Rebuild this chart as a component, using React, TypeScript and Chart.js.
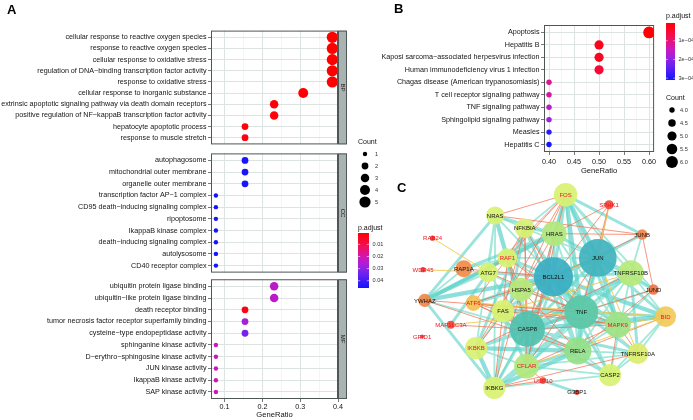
import React, { useEffect, useRef } from "react";
import { Chart, registerables } from "chart.js";

Chart.register(...registerables);

// ================= Panel A : GO enrichment =================
const bpTerms = [
  "cellular response to reactive oxygen species",
  "response to reactive oxygen species",
  "cellular response to oxidative stress",
  "regulation of DNA\u2212binding transcription factor activity",
  "response to oxidative stress",
  "cellular response to inorganic substance",
  "extrinsic apoptotic signaling pathway via death domain receptors",
  "positive regulation of NF\u2212kappaB transcription factor activity",
  "hepatocyte apoptotic process",
  "response to muscle stretch",
];
const bpRatio = [0.385, 0.385, 0.385, 0.385, 0.385, 0.308, 0.231, 0.231, 0.154, 0.154];
const bpCount = [5, 5, 5, 5, 5, 4, 3, 3, 2, 2];
const bpPadj = [0.0006, 0.0006, 0.0006, 0.0007, 0.0008, 0.001, 0.0015, 0.0018, 0.002, 0.0025];

const ccTerms = [
  "autophagosome",
  "mitochondrial outer membrane",
  "organelle outer membrane",
  "transcription factor AP\u22121 complex",
  "CD95 death\u2212inducing signaling complex",
  "ripoptosome",
  "IkappaB kinase complex",
  "death\u2212inducing signaling complex",
  "autolysosome",
  "CD40 receptor complex",
];
const ccRatio = [0.154, 0.154, 0.154, 0.077, 0.077, 0.077, 0.077, 0.077, 0.077, 0.077];
const ccCount = [2, 2, 2, 1, 1, 1, 1, 1, 1, 1];
const ccPadj = [0.0455, 0.0455, 0.0455, 0.046, 0.046, 0.046, 0.046, 0.046, 0.046, 0.046];

const mfTerms = [
  "ubiquitin protein ligase binding",
  "ubiquitin\u2212like protein ligase binding",
  "death receptor binding",
  "tumor necrosis factor receptor superfamily binding",
  "cysteine\u2212type endopeptidase activity",
  "sphinganine kinase activity",
  "D\u2212erythro\u2212sphingosine kinase activity",
  "JUN kinase activity",
  "IkappaB kinase activity",
  "SAP kinase activity",
];
const mfRatio = [0.231, 0.231, 0.154, 0.154, 0.154, 0.077, 0.077, 0.077, 0.077, 0.077];
const mfCount = [3, 3, 2, 2, 2, 1, 1, 1, 1, 1];
const mfPadj = [0.024, 0.024, 0.003, 0.027, 0.033, 0.021, 0.021, 0.021, 0.021, 0.021];

const aMajorTicks = [0.1, 0.2, 0.3, 0.4];
const aMajorLabels = ["0.1", "0.2", "0.3", "0.4"];
const aMinorTicks = [0.15, 0.25, 0.35];
const aRange = [0.064, 0.4];

const countLegendA = [1, 2, 3, 4, 5];
const countLabelsA = ["1", "2", "3", "4", "5"];
const padjTicksA = [0.01, 0.02, 0.03, 0.04];
const padjLabelsA = ["0.01", "0.02", "0.03", "0.04"];

// ================= Panel B : KEGG enrichment =================
const keggTerms = [
  "Apoptosis",
  "Hepatitis B",
  "Kaposi sarcoma\u2212associated herpesvirus infection",
  "Human immunodeficiency virus 1 infection",
  "Chagas disease (American trypanosomiasis)",
  "T cell receptor signaling pathway",
  "TNF signaling pathway",
  "Sphingolipid signaling pathway",
  "Measles",
  "Hepatitis C",
];
const keggRatio = [0.6, 0.5, 0.5, 0.5, 0.4, 0.4, 0.4, 0.4, 0.4, 0.4];
const keggCount = [6, 5, 5, 5, 4, 4, 4, 4, 4, 4];
const keggPadj = [0.000005, 0.00003, 0.000035, 0.00005, 0.000115, 0.00013, 0.00016, 0.00019, 0.00029, 0.00031];

const bMajorTicks = [0.4, 0.45, 0.5, 0.55, 0.6];
const bMajorLabels = ["0.40", "0.45", "0.50", "0.55", "0.60"];
const bMinorTicks = [0.425, 0.475, 0.525, 0.575];
const bRange = [0.39, 0.61];

const countLegendB = [4, 4.5, 5, 5.5, 6];
const countLabelsB = ["4.0", "4.5", "5.0", "5.5", "6.0"];
const padjTicksB = [0.0001, 0.0002, 0.0003];
const padjLabelsB = ["1e\u221204", "2e\u221204", "3e\u221204"];

// ================= Panel C : PPI network =================
const nodeNames = [
  "FOS", "SPHK1", "NRAS", "NFKBIA", "HRAS", "JUNB", "RAB24", "JUN", "RAF1", "RAP1A", "ATG7",
  "WDR45", "BCL2L1", "TNFRSF10B", "HSPA5", "JUND", "YWHAZ", "ATF6", "FAS", "TNF", "BID",
  "MAPK9", "MAP1LC3A", "CASP8", "GRID1", "IKBKB", "RELA", "TNFRSF10A", "CFLAR", "CASP2",
  "USP10", "IKBKG", "G3BP1",
];
const nodeX = [181, 231, 100, 134, 168, 269, 28, 218, 114, 64, 92, 17, 167, 256, 130, 282, 19, 75, 109, 199, 296, 241, 49, 137, 16, 78, 195, 264, 136, 232, 155, 99, 194];
const nodeY = [12, 23, 35, 49, 55, 56, 60, 82, 82, 94, 98, 95, 103, 99, 117, 117, 129, 132, 141, 142, 147, 156, 156, 161, 169, 182, 185, 188, 202, 212, 218, 226, 231];
const nodeDegree = [15, 4, 11, 12, 16, 5, 1, 26, 12, 10, 12, 1, 27, 17, 15, 5, 7, 9, 14, 23, 13, 17, 3, 24, 0, 14, 18, 13, 16, 14, 2, 14, 1];
const nodeScore = [0.5, 0.03, 0.5, 0.5, 0.62, 0.15, 0, 0.97, 0.5, 0.17, 0.5, 0, 1, 0.6, 0.6, 0.12, 0.16, 0.32, 0.5, 0.87, 0.35, 0.7, 0.03, 0.9, 0, 0.5, 0.74, 0.48, 0.62, 0.5, 0.03, 0.5, 0];
const nodeMarked = [1, 1, 0, 0, 0, 0, 1, 0, 1, 0, 0, 1, 0, 0, 0, 0, 0, 1, 0, 0, 1, 1, 1, 0, 1, 1, 0, 0, 1, 0, 1, 0, 0];

const strongEdges = [
  ["JUN", "BCL2L1"], ["JUN", "TNF"], ["JUN", "FOS"], ["JUN", "MAPK9"], ["BCL2L1", "TNF"], ["BCL2L1", "CASP8"],
  ["BCL2L1", "YWHAZ"], ["BCL2L1", "BID"], ["TNF", "CASP8"], ["TNF", "RELA"], ["CASP8", "FAS"], ["CASP8", "CFLAR"],
  ["CASP8", "BID"], ["CASP8", "TNFRSF10B"], ["RELA", "IKBKB"], ["RELA", "IKBKG"], ["IKBKB", "IKBKG"],
  ["RAF1", "YWHAZ"], ["HRAS", "RAF1"], ["NRAS", "RAF1"], ["FOS", "TNF"], ["NRAS", "CASP8"],
];
const mediumEdges = [
  ["JUN", "CASP8"], ["JUN", "RELA"], ["JUN", "TNFRSF10B"], ["JUN", "JUNB"], ["JUN", "JUND"], ["JUN", "HRAS"],
  ["BCL2L1", "RELA"], ["BCL2L1", "HSPA5"], ["BCL2L1", "FAS"], ["BCL2L1", "MAPK9"], ["BCL2L1", "CFLAR"],
  ["BCL2L1", "TNFRSF10B"], ["BCL2L1", "CASP2"], ["BCL2L1", "ATG7"], ["BCL2L1", "RAF1"], ["BCL2L1", "HRAS"],
  ["BCL2L1", "FOS"], ["TNF", "IKBKB"], ["TNF", "IKBKG"], ["TNF", "CFLAR"], ["TNF", "MAPK9"],
  ["TNF", "TNFRSF10A"], ["TNF", "TNFRSF10B"], ["TNF", "NFKBIA"], ["TNF", "FAS"], ["TNF", "BID"],
  ["CASP8", "RELA"], ["CASP8", "CASP2"], ["CASP8", "IKBKB"], ["CASP8", "IKBKG"], ["CASP8", "TNFRSF10A"],
  ["RELA", "NFKBIA"], ["RELA", "CFLAR"], ["FOS", "HRAS"], ["FOS", "JUNB"], ["FOS", "MAPK9"], ["NRAS", "HRAS"],
  ["HRAS", "RAP1A"], ["HRAS", "YWHAZ"], ["NFKBIA", "IKBKB"], ["NFKBIA", "IKBKG"], ["CFLAR", "IKBKG"],
  ["CFLAR", "FAS"], ["TNFRSF10A", "TNFRSF10B"], ["HSPA5", "ATF6"], ["ATG7", "MAP1LC3A"], ["USP10", "G3BP1"],
  ["NRAS", "YWHAZ"], ["IKBKG", "YWHAZ"], ["JUN", "BID"],
];
const thinEdges = [
  ["JUN", "ATF6"], ["JUN", "NFKBIA"], ["JUN", "RAF1"], ["BCL2L1", "IKBKG"], ["BCL2L1", "NRAS"],
  ["TNF", "CASP2"], ["TNF", "HSPA5"], ["TNF", "HRAS"], ["CASP8", "HSPA5"], ["CASP8", "ATG7"],
  ["CASP8", "YWHAZ"], ["RELA", "MAPK9"], ["RELA", "FOS"], ["RELA", "TNFRSF10A"], ["FOS", "TNFRSF10B"],
  ["FOS", "JUND"], ["FOS", "CASP8"], ["NRAS", "ATG7"], ["NRAS", "NFKBIA"], ["NRAS", "IKBKB"],
  ["HRAS", "MAPK9"], ["HRAS", "NFKBIA"], ["RAF1", "RAP1A"], ["RAF1", "MAPK9"], ["IKBKB", "CFLAR"],
  ["CFLAR", "TNFRSF10A"], ["CFLAR", "TNFRSF10B"], ["CFLAR", "CASP2"], ["TNFRSF10A", "BID"],
  ["TNFRSF10A", "CASP2"], ["TNFRSF10B", "BID"], ["TNFRSF10B", "CASP2"], ["CASP2", "BID"], ["CASP2", "IKBKG"],
  ["MAPK9", "BID"], ["JUNB", "TNFRSF10B"], ["JUND", "TNFRSF10B"], ["JUND", "MAPK9"], ["HSPA5", "ATG7"],
  ["HSPA5", "FAS"], ["ATG7", "YWHAZ"], ["FAS", "IKBKB"], ["FOS", "NFKBIA"], ["CASP2", "RELA"],
  ["IKBKG", "NRAS"], ["RAP1A", "YWHAZ"], ["CASP8", "JUND"], ["RELA", "TNFRSF10B"],
];
const redEdges = [
  ["FOS", "NRAS"], ["FOS", "RAF1"], ["FOS", "ATG7"], ["FOS", "HSPA5"], ["FOS", "IKBKB"],
  ["SPHK1", "JUN"], ["SPHK1", "HRAS"], ["SPHK1", "TNF"], ["SPHK1", "BCL2L1"], ["NRAS", "JUNB"], ["HRAS", "JUNB"],
  ["HRAS", "CFLAR"], ["HRAS", "CASP8"], ["NFKBIA", "CASP8"], ["NFKBIA", "CFLAR"], ["NFKBIA", "FAS"],
  ["RAF1", "HSPA5"], ["RAF1", "CASP8"], ["RAF1", "TNF"], ["RAF1", "ATF6"], ["RAF1", "FAS"], ["ATF6", "CASP8"],
  ["ATF6", "TNF"], ["ATF6", "BCL2L1"], ["ATF6", "FAS"], ["ATF6", "MAPK9"], ["YWHAZ", "TNF"], ["YWHAZ", "RELA"],
  ["MAP1LC3A", "CASP8"], ["IKBKB", "HSPA5"], ["CFLAR", "MAPK9"], ["USP10", "IKBKG"], ["USP10", "CFLAR"],
  ["MAPK9", "TNFRSF10A"], ["MAPK9", "CASP2"], ["JUND", "TNF"], ["JUND", "RELA"], ["JUNB", "BCL2L1"],
  ["BID", "RELA"], ["RELA", "HSPA5"], ["HSPA5", "MAPK9"], ["IKBKG", "FAS"],
  ["IKBKG", "TNFRSF10A"], ["CASP8", "MAPK9"], ["JUNB", "JUND"], ["NFKBIA", "RAF1"], ["NFKBIA", "BCL2L1"],
  ["HRAS", "HSPA5"], ["ATF6", "RELA"], ["FAS", "MAPK9"], ["IKBKB", "TNFRSF10B"], ["CFLAR", "JUN"],
  ["ATG7", "TNF"], ["RAP1A", "BCL2L1"], ["HSPA5", "IKBKG"], ["FOS", "CFLAR"],
];
const yellowEdges = [
  ["RAB24", "ATG7"], ["WDR45", "ATG7"], ["MAP1LC3A", "TNF"], ["ATF6", "BID"], ["HSPA5", "JUN"],
  ["BCL2L1", "TNFRSF10A"], ["BID", "MAPK9"], ["JUN", "TNFRSF10A"], ["CFLAR", "BID"], ["SPHK1", "JUN"],
  ["FAS", "TNFRSF10B"],
];

// ================= styling helpers =================
const FONT = "'Liberation Sans', Arial, Helvetica, sans-serif";
const TEXT = "#141414";
const GRID_MAJOR = "#dde3e1";
const GRID_MINOR = "#ecf0ef";
const BORDER = "#4f5656";

const padjStops: [number, string][] = [
  [0, "#ff0000"], [0.25, "#f0105a"], [0.45, "#cc18b8"], [0.6, "#a020e0"], [0.75, "#6a22ee"], [1, "#1414ff"],
];
const nodeStops: [number, string][] = [
  [0, "#f03a36"], [0.15, "#f0844a"], [0.33, "#f5c456"], [0.5, "#d8f272"], [0.62, "#b2e87e"],
  [0.75, "#92e08c"], [0.88, "#56c6aa"], [1, "#3aaec4"],
];

function hexRgb(h: string) {
  return [parseInt(h.slice(1, 3), 16), parseInt(h.slice(3, 5), 16), parseInt(h.slice(5, 7), 16)];
}
function ramp(stops: [number, string][], t: number, alpha = 1) {
  t = Math.max(0, Math.min(1, t));
  for (let i = 1; i < stops.length; i++) {
    if (t <= stops[i][0] || i === stops.length - 1) {
      const [t0, c0] = stops[i - 1];
      const [t1, c1] = stops[i];
      const f = (t - t0) / (t1 - t0);
      const a = hexRgb(c0), b = hexRgb(c1);
      const c = a.map((v, k) => Math.round(v + (b[k] - v) * f));
      return `rgba(${c[0]},${c[1]},${c[2]},${alpha})`;
    }
  }
  return stops[0][1];
}

const allPadjA = [...bpPadj, ...ccPadj, ...mfPadj];
const padjMinA = Math.min(...allPadjA), padjMaxA = Math.max(...allPadjA);
const padjMinB = Math.min(...keggPadj), padjMaxB = Math.max(...keggPadj);
const colorA = (p: number) => ramp(padjStops, (p - padjMinA) / (padjMaxA - padjMinA));
const colorB = (p: number) => ramp(padjStops, (p - padjMinB) / (padjMaxB - padjMinB));

function sizeScale(cMin: number, cMax: number, rMin: number, rMax: number) {
  return (c: number) => Math.sqrt(rMin * rMin + ((c - cMin) / (cMax - cMin)) * (rMax * rMax - rMin * rMin));
}
const radiusA = sizeScale(1, 5, 2.2, 5.6);
const radiusB = sizeScale(4, 6, 2.7, 5.9);
const nodeRadius = (d: number) => 2 + 0.65 * d;

// ================= chart config builders =================
function ratioScale(major: number[], labels: string[], minor: number[], range: number[], showX: boolean, height: number, pad: number): any {
  return {
    type: "linear",
    min: range[0],
    max: range[1],
    afterBuildTicks: (s: any) => {
      s.ticks = [
        ...major.map((v) => ({ value: v, major: true })),
        ...minor.map((v) => ({ value: v, major: false })),
      ].sort((a, b) => a.value - b.value);
    },
    grid: {
      color: (c: any) => (c.tick && c.tick.major ? GRID_MAJOR : GRID_MINOR),
      lineWidth: (c: any) => (c.tick && c.tick.major ? 1 : 0.6),
      drawTicks: showX,
      tickLength: 3,
      tickWidth: 0.8,
      tickColor: (c: any) => (c.tick && c.tick.major ? BORDER : "rgba(0,0,0,0)"),
    },
    border: { display: false },
    ticks: {
      display: showX,
      autoSkip: false,
      maxRotation: 0,
      padding: pad,
      font: { family: FONT, size: 7.2 },
      color: TEXT,
      callback: (v: number) => {
        const j = major.findIndex((m) => Math.abs(m - v) < 1e-9);
        return j >= 0 ? labels[j] : "";
      },
    },
    title: {
      display: showX,
      text: "GeneRatio",
      font: { family: FONT, size: 7.6 },
      color: "#111",
      padding: { top: 0, bottom: 0.5 },
    },
    afterFit: (s: any) => {
      s.height = showX ? height : 0;
      s.paddingLeft = 0;
      s.paddingRight = 0;
    },
  };
}

function termScale(terms: string[], width: number): any {
  return {
    type: "linear",
    reverse: true,
    min: 0.4,
    max: terms.length + 0.6,
    afterBuildTicks: (s: any) => {
      s.ticks = terms.map((_, i) => ({ value: i + 1 }));
    },
    grid: { color: GRID_MAJOR, lineWidth: 1, drawTicks: true, tickLength: 3, tickWidth: 0.8, tickColor: BORDER },
    border: { display: false },
    ticks: {
      autoSkip: false,
      padding: 1.5,
      font: { family: FONT, size: 7.2 },
      color: TEXT,
      callback: (_v: number, i: number) => terms[i],
    },
    afterFit: (s: any) => {
      s.width = width;
      s.paddingTop = 0;
      s.paddingBottom = 0;
    },
  };
}

function panelPlugin(strip?: string): any {
  return {
    id: "panelFrame",
    afterDraw(chart: any) {
      const { ctx, chartArea: a } = chart;
      ctx.save();
      ctx.strokeStyle = BORDER;
      ctx.lineWidth = 1;
      ctx.strokeRect(a.left + 0.5, a.top + 0.5, a.right - a.left - 1, a.bottom - a.top - 1);
      if (strip) {
        ctx.fillStyle = "#a9b3b1";
        ctx.fillRect(a.right, a.top, 8.5, a.bottom - a.top);
        ctx.strokeRect(a.right + 0.5, a.top + 0.5, 8, a.bottom - a.top - 1);
        ctx.translate(a.right + 4.5, (a.top + a.bottom) / 2);
        ctx.rotate(Math.PI / 2);
        ctx.fillStyle = "#1a1a1a";
        ctx.font = `6px ${FONT}`;
        ctx.textAlign = "center";
        ctx.textBaseline = "middle";
        ctx.fillText(strip, 0, 0);
      }
      ctx.restore();
    },
  };
}

const baseOptions = {
  responsive: false,
  animation: false,
  devicePixelRatio: 1,
  events: [],
  plugins: { legend: { display: false }, tooltip: { enabled: false } },
};

function facetConfig(terms: string[], ratio: number[], count: number[], padj: number[], strip: string, showX: boolean): any {
  return {
    type: "scatter",
    data: {
      datasets: [
        {
          data: ratio.map((r, i) => ({ x: r, y: i + 1 })),
          pointRadius: count.map(radiusA),
          pointHoverRadius: count.map(radiusA),
          pointBackgroundColor: padj.map(colorA),
          pointBorderWidth: 0,
          clip: 0,
        },
      ],
    },
    options: {
      ...baseOptions,
      layout: { padding: { top: 2, right: 12, bottom: showX ? 0 : 2, left: 0 } },
      scales: {
        x: ratioScale(aMajorTicks, aMajorLabels, aMinorTicks, aRange, showX, 21, 0.5),
        y: termScale(terms, 211),
      },
    },
    plugins: [panelPlugin(strip)],
  };
}

function keggConfig(): any {
  return {
    type: "scatter",
    data: {
      datasets: [
        {
          data: keggRatio.map((r, i) => ({ x: r, y: i + 1 })),
          pointRadius: keggCount.map(radiusB),
          pointHoverRadius: keggCount.map(radiusB),
          pointBackgroundColor: keggPadj.map(colorB),
          pointBorderWidth: 0,
          clip: 0,
        },
      ],
    },
    options: {
      ...baseOptions,
      layout: { padding: { top: 7, right: 4, bottom: 0, left: 0 } },
      scales: {
        x: ratioScale(bMajorTicks, bMajorLabels, bMinorTicks, bRange, true, 24, 2.5),
        y: termScale(keggTerms, 194),
      },
    },
    plugins: [panelPlugin()],
  };
}

function edgeDataset(list: string[][], color: string, width: number, order: number): any {
  const pts: any[] = [];
  for (const [a, b] of list) {
    const i = nodeNames.indexOf(a), j = nodeNames.indexOf(b);
    if (i < 0 || j < 0) continue;
    pts.push({ x: nodeX[i], y: nodeY[i] }, { x: nodeX[j], y: nodeY[j] }, { x: null, y: null });
  }
  return {
    data: pts,
    showLine: true,
    spanGaps: false,
    borderColor: color,
    borderWidth: width,
    pointRadius: 0,
    pointHoverRadius: 0,
    order,
    clip: false,
  };
}

const nodeLabelPlugin: any = {
  id: "nodeLabels",
  afterDatasetsDraw(chart: any) {
    const meta = chart.getDatasetMeta(0);
    const ctx = chart.ctx;
    ctx.save();
    ctx.font = `6px ${FONT}`;
    ctx.textAlign = "center";
    ctx.textBaseline = "middle";
    meta.data.forEach((pt: any, i: number) => {
      ctx.fillStyle = nodeMarked[i] ? "#f2141e" : "#101010";
      ctx.fillText(nodeNames[i], pt.x, pt.y + 0.5);
    });
    ctx.restore();
  },
};

function networkConfig(): any {
  return {
    type: "scatter",
    data: {
      datasets: [
        {
          data: nodeX.map((x, i) => ({ x, y: nodeY[i] })),
          pointRadius: nodeDegree.map(nodeRadius),
          pointHoverRadius: nodeDegree.map(nodeRadius),
          pointBackgroundColor: nodeScore.map((s) => ramp(nodeStops, s, 0.93)),
          pointBorderWidth: 0,
          order: 0,
          clip: false,
        },
        edgeDataset(yellowEdges, "rgba(240,198,72,0.85)", 1, 1),
        edgeDataset(redEdges, "rgba(244,110,76,0.8)", 0.9, 2),
        edgeDataset(thinEdges, "rgba(104,216,194,0.6)", 1.8, 3),
        edgeDataset(mediumEdges, "rgba(92,212,200,0.62)", 3, 4),
        edgeDataset(strongEdges, "rgba(80,206,200,0.65)", 4.2, 5),
      ],
    },
    options: {
      ...baseOptions,
      layout: { padding: { top: 17, right: 0, bottom: 0, left: 0 } },
      scales: {
        x: { type: "linear", display: false, min: 5, max: 305 },
        y: { type: "linear", display: false, min: 15, max: 240, reverse: true },
      },
    },
    plugins: [nodeLabelPlugin],
  };
}

function drawColorbar(ctx: any, x: number, y: number, w: number, h: number, ticks: number[], labels: string[], min: number, max: number) {
  const g = ctx.createLinearGradient(0, y, 0, y + h);
  padjStops.forEach(([t, c]) => g.addColorStop(t, c));
  ctx.fillStyle = g;
  ctx.fillRect(x, y, w, h);
  ctx.font = `5.6px ${FONT}`;
  ctx.textAlign = "left";
  ctx.textBaseline = "middle";
  ticks.forEach((v, i) => {
    const ty = y + ((v - min) / (max - min)) * h;
    ctx.strokeStyle = "rgba(255,255,255,0.9)";
    ctx.lineWidth = 0.6;
    ctx.beginPath();
    ctx.moveTo(x, ty); ctx.lineTo(x + w * 0.2, ty);
    ctx.moveTo(x + w * 0.8, ty); ctx.lineTo(x + w, ty);
    ctx.stroke();
    ctx.fillStyle = "#333";
    ctx.fillText(labels[i], x + w + 3.5, ty);
  });
}

function drawCountLegend(ctx: any, x: number, y0: number, step: number, values: number[], labels: string[], rad: (c: number) => number, labelX: number) {
  values.forEach((c, i) => {
    const cy = y0 + i * step;
    ctx.fillStyle = "#000";
    ctx.beginPath();
    ctx.arc(x, cy, rad(c), 0, Math.PI * 2);
    ctx.fill();
    ctx.fillStyle = "#333";
    ctx.font = `5.6px ${FONT}`;
    ctx.textAlign = "left";
    ctx.textBaseline = "middle";
    ctx.fillText(labels[i], labelX, cy);
  });
}

const overlayPlugin: any = {
  id: "overlay",
  afterDraw(chart: any) {
    const ctx = chart.ctx;
    ctx.save();
    ctx.fillStyle = "#000";
    ctx.font = `bold 13px ${FONT}`;
    ctx.textAlign = "left";
    ctx.textBaseline = "alphabetic";
    ctx.fillText("A", 7, 14);
    ctx.fillText("B", 394, 12.5);
    ctx.fillText("C", 397, 191.5);

    ctx.font = `7px ${FONT}`;
    ctx.textBaseline = "middle";
    ctx.fillStyle = "#111";
    ctx.fillText("Count", 358, 142);
    ctx.fillText("p.adjust", 358, 228);
    ctx.fillText("p.adjust", 666, 16);
    ctx.fillText("Count", 666, 98);

    drawCountLegend(ctx, 365, 154, 12, countLegendA, countLabelsA, radiusA, 375);
    drawColorbar(ctx, 358, 233, 11, 55, padjTicksA, padjLabelsA, padjMinA, padjMaxA);
    drawColorbar(ctx, 666, 23, 9, 57, padjTicksB, padjLabelsB, padjMinB, padjMaxB);
    drawCountLegend(ctx, 672, 110, 13, countLegendB, countLabelsB, radiusB, 680);
    ctx.restore();
  },
};

function overlayConfig(): any {
  return {
    type: "scatter",
    data: { datasets: [] },
    options: {
      ...baseOptions,
      layout: { padding: 0 },
      scales: { x: { display: false }, y: { display: false } },
    },
    plugins: [overlayPlugin],
  };
}

// ================= components =================
function ChartBox({ x, y, w, h, make, z }: { x: number; y: number; w: number; h: number; make: () => any; z?: number }) {
  const ref = useRef<HTMLCanvasElement | null>(null);
  useEffect(() => {
    if (!ref.current) return;
    const chart = new Chart(ref.current, make());
    return () => chart.destroy();
  }, []);
  return (
    <canvas
      ref={ref}
      width={w}
      height={h}
      style={{ position: "absolute", left: x, top: y, width: w, height: h, zIndex: z || 1, pointerEvents: "none" }}
    />
  );
}

export default function App() {
  return (
    <div style={{ position: "absolute", left: 0, top: 0, width: 693, height: 420, background: "#ffffff", overflow: "hidden" }}>
      <ChartBox x={0} y={25} w={350} h={125} make={() => facetConfig(bpTerms, bpRatio, bpCount, bpPadj, "BP", false)} />
      <ChartBox x={0} y={150} w={350} h={126} make={() => facetConfig(ccTerms, ccRatio, ccCount, ccPadj, "CC", false)} />
      <ChartBox x={0} y={275} w={350} h={145} make={() => facetConfig(mfTerms, mfRatio, mfCount, mfPadj, "MF", true)} />
      <ChartBox x={350} y={18} w={310} h={158} make={keggConfig} />
      <ChartBox x={393} y={178} w={300} h={242} make={networkConfig} />
      <ChartBox x={0} y={0} w={693} h={420} make={overlayConfig} z={5} />
    </div>
  );
}
